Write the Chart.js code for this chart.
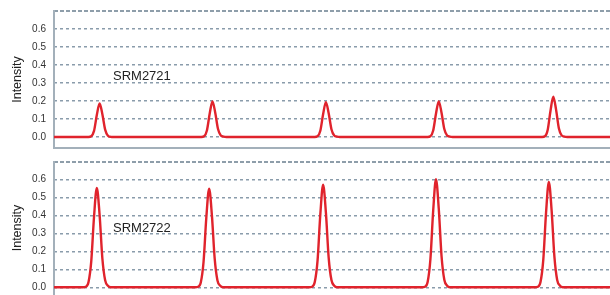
<!DOCTYPE html>
<html>
<head>
<meta charset="utf-8">
<script src="https://cdn.jsdelivr.net/npm/chart.js@4"></script>
<style>
  body { margin: 0; background: #fff; }
  #wrap { position: relative; width: 610px; height: 295px; overflow: hidden; }
  .panel { position: absolute; left: 0; width: 610px; }
  .tag { position: absolute; left: 113px; font: 13px "Liberation Sans", Arial, sans-serif; line-height: 13px; color: #222; }
</style>
</head>
<body>
<div id="wrap">
  <div class="panel" style="top:0;height:150px"><canvas id="top"></canvas></div>
  <div class="panel" style="top:151px;height:144px"><canvas id="bottom"></canvas></div>
  <div class="tag" style="top:69px">SRM2721</div>
  <div class="tag" style="top:221px">SRM2722</div>
</div>
<script>
// retention time (min) and intensity
const timeA = [0,
  0.57,0.62,0.67,0.72,0.77,0.82,0.87,0.92,0.97,1.02,1.07,
  2.60,2.65,2.70,2.75,2.80,2.85,2.90,2.95,3.00,3.05,3.10,
  4.64,4.69,4.74,4.79,4.84,4.89,4.94,4.99,5.04,5.09,5.14,
  6.67,6.72,6.77,6.82,6.87,6.92,6.97,7.02,7.07,7.12,7.17,
  8.73,8.78,8.83,8.88,8.93,8.98,9.03,9.08,9.13,9.18,9.23,
  10];
const intensityA = [0,
  0,0,0.004,0.034,0.122,0.187,0.127,0.041,0.007,0.001,0,
  0,0,0.004,0.036,0.129,0.198,0.135,0.044,0.008,0.002,0,
  0,0,0.004,0.035,0.126,0.194,0.132,0.043,0.008,0.002,0,
  0,0,0.004,0.036,0.129,0.198,0.135,0.044,0.008,0.002,0,
  0,0,0.004,0.040,0.146,0.224,0.152,0.049,0.009,0.002,0,
  0];
const timeB = [0,
  0.52,0.57,0.62,0.67,0.72,0.77,0.82,0.87,0.92,0.97,1.02,
  2.54,2.59,2.64,2.69,2.74,2.79,2.84,2.89,2.94,2.99,3.04,
  4.59,4.64,4.69,4.74,4.79,4.84,4.89,4.94,4.99,5.04,5.09,
  6.62,6.67,6.72,6.77,6.82,6.87,6.92,6.97,7.02,7.07,7.12,
  8.65,8.70,8.75,8.80,8.85,8.90,8.95,9.00,9.05,9.10,9.15,
  10];
const intensityB = [0,
  0,0.003,0.028,0.144,0.392,0.552,0.403,0.160,0.039,0.008,0,
  0,0.003,0.027,0.142,0.389,0.548,0.400,0.159,0.038,0.008,0,
  0,0.003,0.029,0.148,0.405,0.570,0.416,0.165,0.040,0.009,0,
  0,0.003,0.030,0.156,0.426,0.600,0.438,0.174,0.042,0.009,0,
  0,0.003,0.029,0.152,0.415,0.585,0.427,0.170,0.041,0.009,0,
  0];
const yTicks = [0, 0.1, 0.2, 0.3, 0.4, 0.5, 0.6];
const yLabels = ['0.0', '0.1', '0.2', '0.3', '0.4', '0.5', '0.6'];

const frame = {
  id: 'frame',
  beforeDatasetsDraw(chart, args, opts) {
    const { ctx, chartArea: a } = chart;
    ctx.save();
    ctx.lineWidth = 2;
    ctx.strokeStyle = '#8e9eaa';
    ctx.setLineDash([4, 2]);
    ctx.beginPath(); ctx.moveTo(a.left, a.top + 1); ctx.lineTo(a.right, a.top + 1); ctx.stroke();
    ctx.setLineDash([]);
    ctx.strokeStyle = '#a3b0ba';
    ctx.beginPath(); ctx.moveTo(a.left, a.top); ctx.lineTo(a.left, a.bottom); ctx.stroke();
    if (opts.bottom) {
      ctx.beginPath(); ctx.moveTo(a.left, a.bottom - 1); ctx.lineTo(a.right, a.bottom - 1); ctx.stroke();
    }
    ctx.restore();
  }
};

function makeChart(id, xs, ys, yMin, yMax, padTop, padBottom, bottomLine) {
  return new Chart(document.getElementById(id), {
    type: 'line',
    data: {
      datasets: [{
        data: xs.map((x, i) => ({ x: x, y: ys[i] })),
        borderColor: '#e0232c',
        borderWidth: 2.4,
        pointRadius: 0,
        cubicInterpolationMode: 'monotone',
        fill: false
      }]
    },
    options: {
      responsive: true,
      maintainAspectRatio: false,
      animation: false,
      layout: { padding: { top: padTop, bottom: padBottom, left: 0, right: 0 } },
      plugins: { legend: { display: false }, tooltip: { enabled: false }, frame: { bottom: bottomLine } },
      scales: {
        x: { type: 'linear', min: 0, max: 10, display: false },
        y: {
          min: yMin, max: yMax,
          afterBuildTicks: s => { s.ticks = yTicks.map(v => ({ value: v })); },
          afterFit: s => { s.width = 54; s.paddingTop = 0; s.paddingBottom = 0; },
          ticks: {
            padding: 8,
            color: '#333',
            font: { family: '"Liberation Sans", Arial, sans-serif', size: 10 },
            callback: (v) => yLabels[yTicks.findIndex(t => Math.abs(t - v) < 1e-6)]
          },
          grid: { color: '#8a9cab', lineWidth: 1.5, drawTicks: false },
          border: { display: false, dash: [3, 3] },
          title: {
            display: true, text: 'Intensity', color: '#222',
            font: { family: '"Liberation Sans", Arial, sans-serif', size: 12.5 },
            padding: { top: 10, bottom: 0 }
          }
        }
      }
    },
    plugins: [frame]
  });
}

makeChart('top', timeA, intensityA, -0.0667, 0.7056, 10, 1, true);
makeChart('bottom', timeB, intensityB, -0.0428, 0.7017, 10, 0, false);
</script>
</body>
</html>
